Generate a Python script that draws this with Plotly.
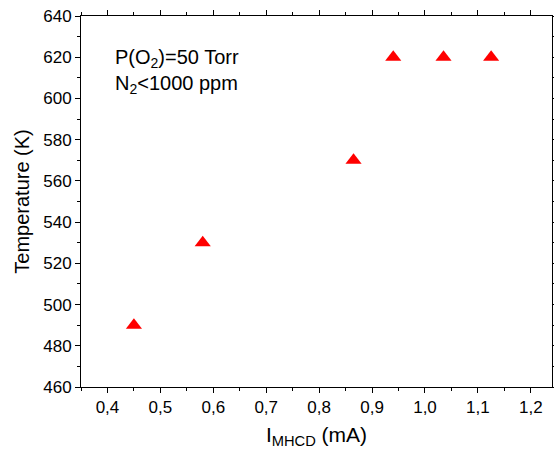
import plotly.graph_objects as go

current_mA = [0.45, 0.58, 0.865, 0.94, 1.035, 1.125]
temperature_K = [490, 530, 570, 620, 620, 620]

x_ticks = [0.4, 0.5, 0.6, 0.7, 0.8, 0.9, 1.0, 1.1, 1.2]
x_tick_labels = ["0,4", "0,5", "0,6", "0,7", "0,8", "0,9", "1,0", "1,1", "1,2"]
y_ticks = [460, 480, 500, 520, 540, 560, 580, 600, 620, 640]

font_family = "Liberation Sans, Arial, sans-serif"

fig = go.Figure()
fig.add_trace(go.Scatter(
    x=current_mA, y=temperature_K, mode="markers",
    marker=dict(symbol="triangle-up", size=14, color="#ff0000", line=dict(width=0)),
    showlegend=False,
))

axis_common = dict(
    showgrid=False, zeroline=False, showline=True, linecolor="black", linewidth=1,
    mirror="allticks", ticks="outside", ticklen=5, tickwidth=1, tickcolor="black",
    tickfont=dict(family=font_family, size=17, color="black"),
    automargin=False,
)

fig.update_xaxes(
    range=[0.35, 1.24], tickvals=x_ticks, ticktext=x_tick_labels,
    minor=dict(dtick=0.05, tick0=0.35, ticks="outside", ticklen=3, tickcolor="black", showgrid=False),
    title=dict(text="I<sub>MHCD</sub> (mA)", font=dict(family=font_family, size=21, color="black"), standoff=10),
    **axis_common,
)
fig.update_yaxes(
    range=[460, 640], tickvals=y_ticks,
    minor=dict(dtick=10, tick0=460, ticks="outside", ticklen=3, tickcolor="black", showgrid=False),
    title=dict(text="Temperature (K)", font=dict(family=font_family, size=20, color="black"), standoff=8),
    **axis_common,
)

fig.add_annotation(text="P(O<sub>2</sub>)=50 Torr", xref="paper", yref="paper",
                   x=0.068, y=0.885, xanchor="left", yanchor="middle", showarrow=False,
                   font=dict(family=font_family, size=20, color="black"))
fig.add_annotation(text="N<sub>2</sub><1000 ppm", xref="paper", yref="paper",
                   x=0.068, y=0.815, xanchor="left", yanchor="middle", showarrow=False,
                   font=dict(family=font_family, size=20, color="black"))

fig.update_layout(
    width=554, height=453,
    margin=dict(l=81, r=2, t=16, b=66),
    plot_bgcolor="white", paper_bgcolor="white",
)

fig.write_html("out.html")
